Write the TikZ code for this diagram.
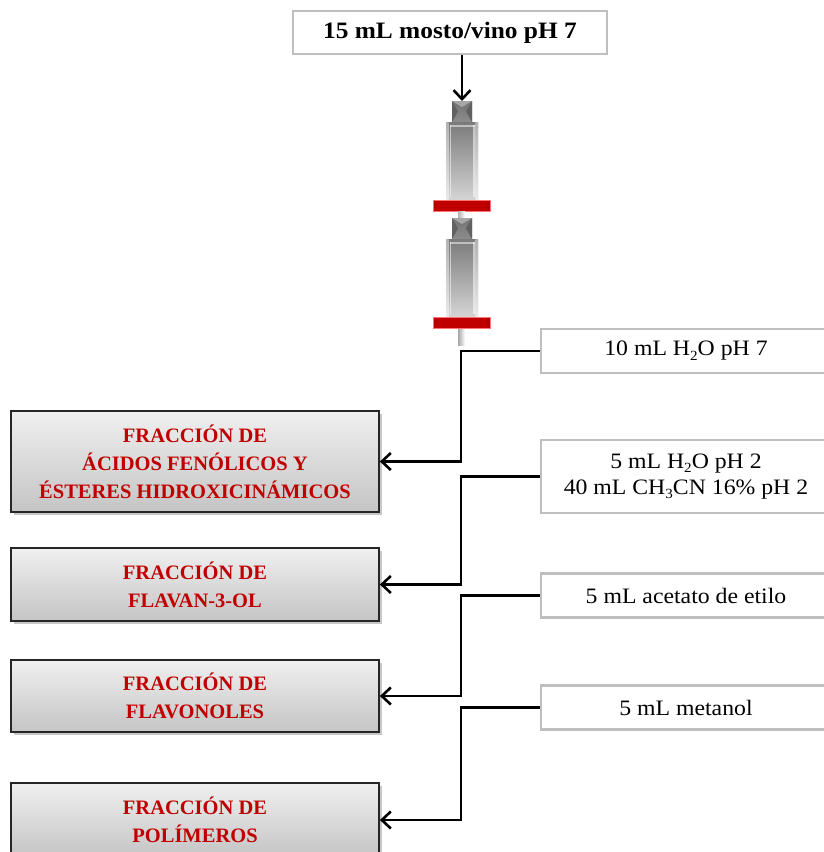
\documentclass[tikz,border=0pt]{standalone}
\usepackage{fontspec}
\setmainfont{Liberation Serif}
\newfontfamily\widefont{Liberation Serif}[FakeStretch=1.08]
\usetikzlibrary{arrows.meta}
\definecolor{fracred}{HTML}{C00000}
\definecolor{boxgray}{HTML}{BFBFBF}
\newcommand{\sub}[1]{\raisebox{-0.45ex}{\fontsize{14}{14}\selectfont #1}}
\tikzset{
  inbox/.style={draw=boxgray, line width=2.4pt, fill=white, align=center,
    inner sep=0pt, font=\widefont\fontsize{22}{26}\selectfont},
  fracbox/.style={draw=black!85, line width=1.8pt, align=center, inner sep=0pt,
    top color=black!6, bottom color=black!23,
    font=\fontsize{20.5}{28}\selectfont\bfseries, text=fracred},
  fracshadow/.style={fill=black!22},
  flow/.style={line width=2.6pt, draw=black},
  flowarrow/.style={flow, -{Straight Barb[length=9pt,width=17pt,line width=2.6pt]}},
}
\begin{document}
\begin{tikzpicture}[x=1pt,y=-1pt]
\useasboundingbox (0,0) rectangle (823,852);

% sample on top
\node[inbox, minimum width=314pt, minimum height=43pt,
      font=\widefont\fontsize{23.5}{26}\selectfont\bfseries] (sample) at (450,32.5)
  {15 mL mosto/vino pH 7};

% two stacked SPE cartridges
\newcommand{\cartridge}[2]{% #1 = top of neck, #2 = name
  % neck with bevelled sides
  \shade[top color=black!55, bottom color=black!45] (452,#1) rectangle (472,#1+21);
  \fill[black!62] (452,#1) -- (458,#1+10.5) -- (452,#1+21) -- cycle;
  \fill[black!62] (472,#1) -- (466,#1+10.5) -- (472,#1+21) -- cycle;
  \fill[black!35] (452,#1) -- (462,#1+6) -- (472,#1) -- cycle;
  % barrel
  \shade[top color=black!52, bottom color=black!17] (446,#1+21) rectangle (478,#1+98);
  \shade[top color=black!30, bottom color=black!8] (446,#1+21) rectangle (448.5,#1+98);
  \shade[top color=black!30, bottom color=black!8] (475.5,#1+21) rectangle (478,#1+98);
  \fill[white, opacity=0.55] (449.5,#1+24) rectangle (451,#1+96);
  \fill[white, opacity=0.55] (473,#1+24) rectangle (474.5,#1+96);
  \fill[white, opacity=0.5] (449.5,#1+24) rectangle (474.5,#1+25.5);
  % red frit ring
  \fill[fracred] (433,#1+99) rectangle (490,#1+110);
  \fill[red!70!black] (433,#1+99) -- (438,#1+104.5) -- (433,#1+110) -- cycle;
  \fill[red!70!black] (490,#1+99) -- (485,#1+104.5) -- (490,#1+110) -- cycle;
  \draw[red!55, line width=0.6pt] (433,#1+99) rectangle (490,#1+110);
  \coordinate (#2) at (462,#1);
}
\cartridge{101}{cartA}
\shade[left color=black!30, right color=white] (458,211) rectangle (465,218);
\cartridge{218}{cartB}
\shade[left color=black!35, right color=white] (458,329) rectangle (465,345);
\coordinate (cartout) at (462,345);

\draw[flowarrow] (sample.south -| cartA) -- (cartA);

% eluents
\node[inbox, minimum width=290pt, minimum height=44pt] (e1) at (686,351)
  {10 mL H\sub{2}O pH 7};
\node[inbox, minimum width=290pt, minimum height=73pt] (e2) at (686,476.5)
  {5 mL H\sub{2}O pH 2\\40 mL CH\sub{3}CN 16\% pH 2};
\node[inbox, minimum width=290pt, minimum height=44pt] (e3) at (686,595.5)
  {5 mL acetato de etilo};
\node[inbox, minimum width=290pt, minimum height=44pt] (e4) at (686,707.5)
  {5 mL metanol};

% collected fractions, each with a light shadow
\foreach \yc/\h in {461.5/101, 584.5/73, 696/72, 820/74}{
  \fill[fracshadow] (14,\yc-\h/2+3) rectangle (382,\yc+\h/2+3);
}
\node[fracbox, minimum width=368pt, minimum height=101pt] (f1) at (195,461.5)
  {FRACCIÓN DE\\ÁCIDOS FENÓLICOS Y\\ÉSTERES HIDROXICINÁMICOS};
\node[fracbox, minimum width=368pt, minimum height=73pt] (f2) at (195,584.5)
  {FRACCIÓN DE\\FLAVAN-3-OL};
\node[fracbox, minimum width=368pt, minimum height=72pt] (f3) at (195,696)
  {FRACCIÓN DE\\FLAVONOLES};
\node[fracbox, minimum width=368pt, minimum height=74pt] (f4) at (195,820)
  {FRACCIÓN DE\\POLÍMEROS};

% connectors from each eluent to its fraction
\coordinate (spine) at (461,0);
\draw[flowarrow] (e1.west) -- (e1.west -| spine) |- (f1.east);
\draw[flowarrow] (e2.west) -- (e2.west -| spine) |- (f2.east);
\draw[flowarrow] (e3.west) -- (e3.west -| spine) |- (f3.east);
\draw[flowarrow] (e4.west) -- (e4.west -| spine) |- (f4.east);
\end{tikzpicture}
\end{document}
